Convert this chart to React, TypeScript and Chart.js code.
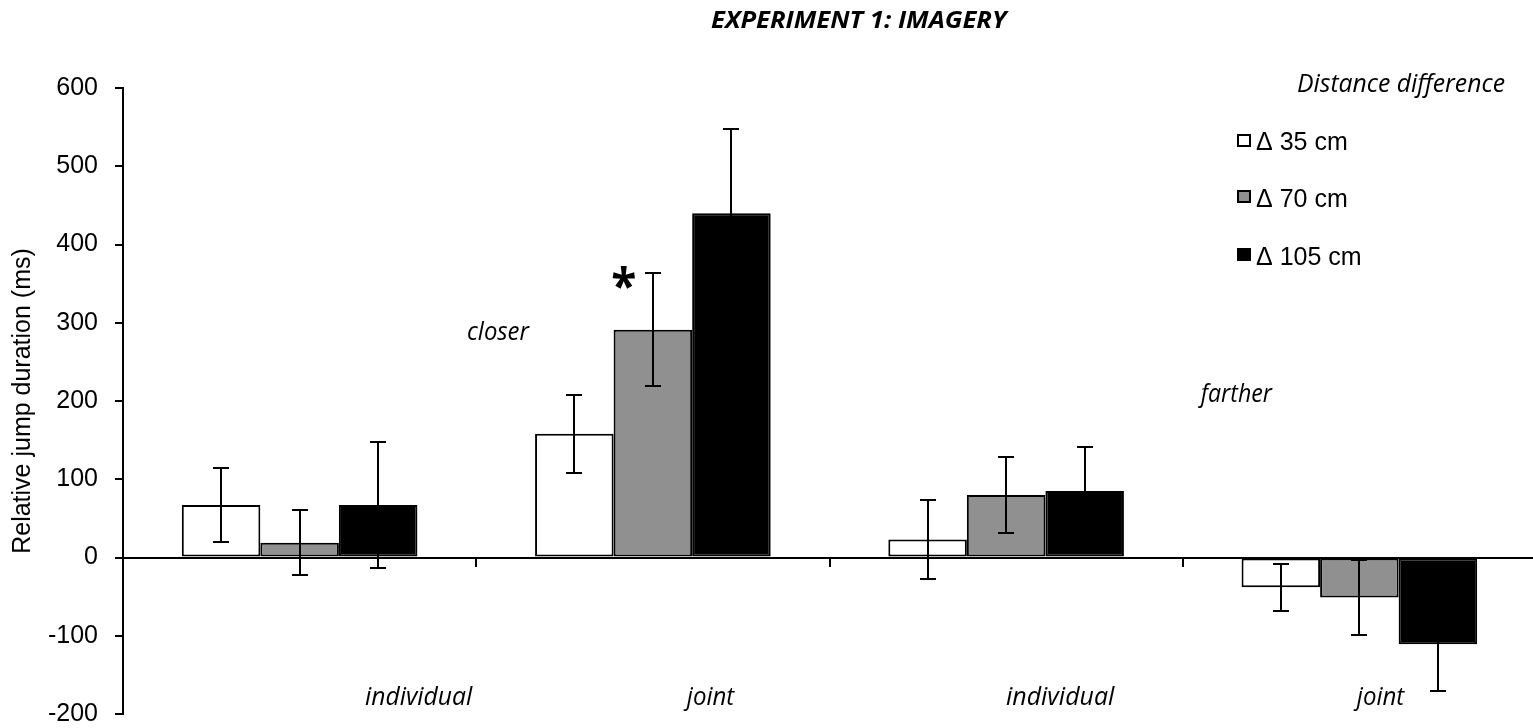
import React, { useEffect, useRef } from 'react';
import { Chart, registerables } from 'chart.js';

Chart.register(...registerables);

// ---- data ----
const categories = ['individual', 'joint', 'individual', 'joint'];
const groupLabels = ['closer', 'farther'];
const seriesLabels = ['Δ 35 cm', 'Δ 70 cm', 'Δ 105 cm'];
const seriesColors = ['#ffffff', '#909090', '#000000'];
const values35 = [67, 158, 23, -38];
const values70 = [19, 291, 80, -51];
const values105 = [67, 440, 85, -111];
const err35 = [47, 50, 51, 30];
const err70 = [42, 72, 49, 48];
const err105 = [81, 107, 56, 59];
const yMin = -200;
const yMax = 600;
const yStep = 100;
const chartTitle = 'EXPERIMENT 1: IMAGERY';
const yTitle = 'Relative jump duration (ms)';
const legendTitle = 'Distance difference';
const significanceMark = '*';

const errorSets = [err35, err70, err105];

const ARIAL = '"Liberation Sans", Arial, sans-serif';
const ITAL = '"Open Sans", sans-serif';

function drawFitted(ctx: CanvasRenderingContext2D, text: string, font: string, left: number, right: number, baseline: number) {
  ctx.save();
  ctx.font = font;
  ctx.textAlign = 'left';
  ctx.textBaseline = 'alphabetic';
  const m = ctx.measureText(text);
  const inkW = m.actualBoundingBoxLeft + m.actualBoundingBoxRight;
  const sx = (right - left) / inkW;
  ctx.translate(left, baseline);
  ctx.scale(sx, 1);
  ctx.fillStyle = '#000';
  ctx.fillText(text, m.actualBoundingBoxLeft, 0);
  ctx.restore();
}

function drawInBox(ctx: CanvasRenderingContext2D, text: string, font: string, x0: number, x1: number, y0: number, y1: number) {
  ctx.save();
  ctx.font = font;
  ctx.textAlign = 'left';
  ctx.textBaseline = 'alphabetic';
  const m = ctx.measureText(text);
  const inkW = m.actualBoundingBoxLeft + m.actualBoundingBoxRight;
  const inkH = m.actualBoundingBoxAscent + m.actualBoundingBoxDescent;
  ctx.translate(x0, y0);
  ctx.scale((x1 - x0) / inkW, (y1 - y0) / inkH);
  ctx.fillStyle = '#000';
  ctx.fillText(text, m.actualBoundingBoxLeft, m.actualBoundingBoxAscent);
  ctx.restore();
}

const errorBarPlugin = {
  id: 'errorBars',
  afterDatasetsDraw(chart: any) {
    const ctx: CanvasRenderingContext2D = chart.ctx;
    const ys = chart.scales.y;
    ctx.save();
    ctx.strokeStyle = '#000';
    ctx.lineWidth = 2;
    chart.data.datasets.forEach((ds: any, i: number) => {
      const meta = chart.getDatasetMeta(i);
      const errs = errorSets[i];
      meta.data.forEach((bar: any, j: number) => {
        const v = ds.data[j];
        const e = errs[j];
        const x = Math.round(bar.x);
        const top = Math.round(ys.getPixelForValue(v + e));
        const bot = Math.round(ys.getPixelForValue(v - e));
        ctx.beginPath();
        ctx.moveTo(x, top);
        ctx.lineTo(x, bot);
        ctx.moveTo(x - 8, top);
        ctx.lineTo(x + 8, top);
        ctx.moveTo(x - 8, bot);
        ctx.lineTo(x + 8, bot);
        ctx.stroke();
      });
    });
    ctx.restore();
  },
};

const textPlugin = {
  id: 'texts',
  afterDraw(chart: any) {
    const ctx: CanvasRenderingContext2D = chart.ctx;
    // title
    drawFitted(ctx, chartTitle, `italic 700 24px ${ITAL}`, 711, 1009, 28);
    // category labels
    const catBoxes = [[365, 473], [683, 735], [1006, 1115], [1353, 1405]];
    categories.forEach((c, i) => {
      drawFitted(ctx, c, `italic 400 25px ${ITAL}`, catBoxes[i][0], catBoxes[i][1], 705);
    });
    // group labels
    drawFitted(ctx, groupLabels[0], `italic 400 25px ${ITAL}`, 468, 530, 340);
    drawFitted(ctx, groupLabels[1], `italic 400 25px ${ITAL}`, 1198, 1273, 402);
    // significance
    drawInBox(ctx, significanceMark, `700 60px ${ITAL}`, 612, 635, 267, 290);
    // legend
    drawFitted(ctx, legendTitle, `italic 400 26px ${ITAL}`, 1298, 1505, 92);
    const boxTops = [134, 190, 248];
    const baselines = [150, 207, 265];
    chart.data.datasets.forEach((ds: any, i: number) => {
      ctx.save();
      ctx.fillStyle = ds.backgroundColor;
      ctx.fillRect(1237, boxTops[i], 14, 13);
      ctx.strokeStyle = '#000';
      ctx.lineWidth = 2;
      ctx.strokeRect(1238, boxTops[i] + 1, 12, 11);
      ctx.fillStyle = '#000';
      ctx.font = `25px ${ARIAL}`;
      ctx.textAlign = 'left';
      ctx.textBaseline = 'alphabetic';
      ctx.fillText(ds.label, 1256, baselines[i]);
      ctx.restore();
    });
  },
};

export default function App() {
  const ref = useRef<HTMLCanvasElement>(null);
  useEffect(() => {
    const values = [values35, values70, values105];
    const chart = new Chart(ref.current!, {
      type: 'bar',
      data: {
        labels: categories,
        datasets: seriesLabels.map((label, i) => ({
          label,
          data: values[i],
          backgroundColor: seriesColors[i],
          borderColor: '#000',
          borderWidth: 2,
          borderSkipped: false,
          categoryPercentage: 0.667,
          barPercentage: 1,
        })),
      },
      options: {
        responsive: false,
        animation: false,
        devicePixelRatio: 1,
        layout: { padding: { top: 88, right: 4, bottom: 14, left: 0 } },
        plugins: {
          legend: { display: false },
          tooltip: { enabled: false },
          title: { display: false },
        },
        scales: {
          x: {
            type: 'category',
            position: { y: 0 } as any,
            offset: true,
            afterFit: (s: any) => {
              s.height = 0;
            },
            grid: {
              display: true,
              drawOnChartArea: false,
              drawTicks: true,
              tickLength: 8,
              color: '#000',
              lineWidth: 2,
              offset: true,
            },
            border: { display: true, color: '#000', width: 2 },
            ticks: { display: false },
          },
          y: {
            min: yMin,
            max: yMax,
            afterFit: (s: any) => {
              s.width = 123;
              s.paddingTop = 12;
              s.paddingBottom = 12;
            },
            ticks: {
              stepSize: yStep,
              color: '#000',
              font: { family: ARIAL, size: 25, lineHeight: 1 },
              padding: 17,
            },
            grid: {
              drawOnChartArea: false,
              drawTicks: true,
              tickLength: 8,
              color: '#000',
              lineWidth: 2,
            },
            border: { display: true, color: '#000', width: 2 },
            title: {
              display: true,
              text: yTitle,
              color: '#000',
              font: { family: ARIAL, size: 25, lineHeight: 1.2 },
              padding: { top: 8, bottom: 0 },
            },
          },
        },
      } as any,
      plugins: [errorBarPlugin, textPlugin],
    });
    return () => chart.destroy();
  }, []);

  return (
    <div style={{ position: 'absolute', left: 0, top: 0, width: 1533, height: 728, overflow: 'hidden', background: '#fff' }}>
      <canvas ref={ref} width={1540} height={728} style={{ width: 1540, height: 728, display: 'block' }} />
    </div>
  );
}
